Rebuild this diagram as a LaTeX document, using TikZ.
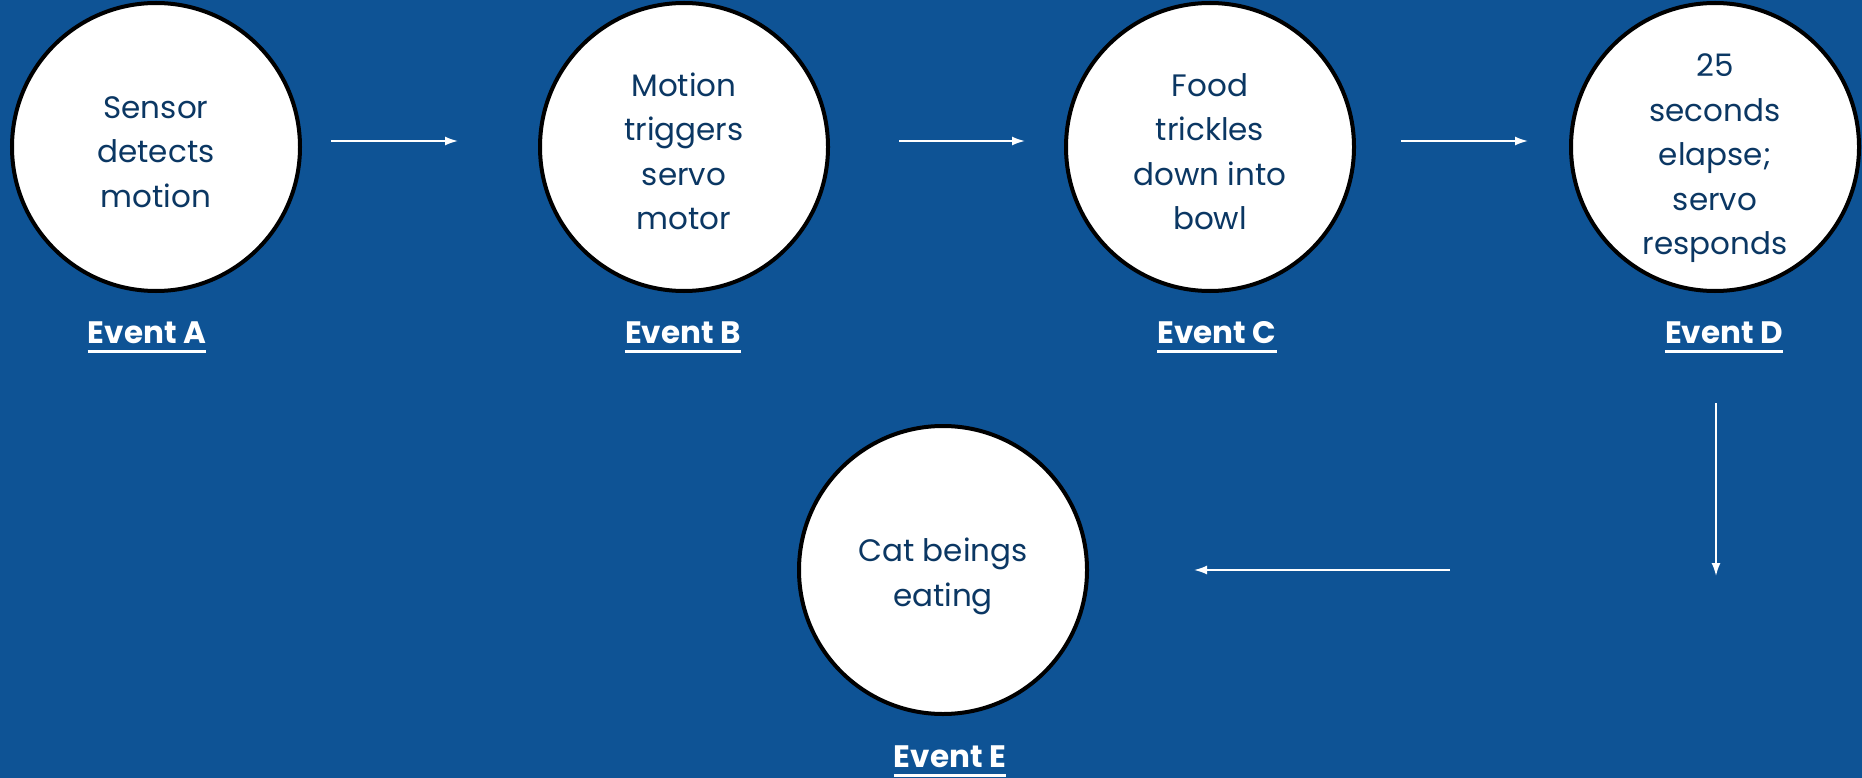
\documentclass[tikz,border=0pt]{standalone}
\usepackage{fontspec}
\setmainfont{Poppins}
\usetikzlibrary{arrows.meta}
\definecolor{bgblue}{HTML}{0E5395}
\definecolor{navy}{HTML}{0B3763}
\newcommand{\ctext}[2][5pt]{\raisebox{-#1}[\height][\depth]{\begin{tabular}{@{}c@{}}#2\end{tabular}}}
\tikzset{
  event/.style={circle, draw=black, line width=4pt, fill=white, minimum size=288pt, inner sep=0pt,
    align=center, text=navy, font=\fontsize{31}{44.5}\selectfont},
  evlabel/.style={text=white, inner sep=0pt, text depth=0pt, anchor=base,
    font=\fontsize{31}{36}\selectfont\bfseries},
  ul/.style={draw=white, line width=3pt},
  arr/.style={draw=white, line width=1.8pt, -{Latex[length=13pt,width=9pt]}},
}
\begin{document}
\begin{tikzpicture}[x=1pt,y=-1pt]
\fill[bgblue] (0,0) rectangle (1862,778);
\useasboundingbox (0,0) rectangle (1862,778);
\node[event] (a) at (156,147) {\ctext[7pt]{Sensor\\detects\\motion}};
\node[event] (b) at (684,147) {\ctext[7pt]{Motion\\triggers\\servo\\motor}};
\node[event] (c) at (1210,147) {\ctext[7pt]{Food\\trickles\\down into\\bowl}};
\node[event] (d) at (1715,147) {\ctext[10pt]{25\\seconds\\elapse;\\servo\\responds}};
\node[event] (e) at (943,570) {\ctext[5pt]{Cat beings\\eating}};
\node[evlabel] (la) at (147,343) {Event A};
\node[evlabel] (lb) at (683,343) {Event B};
\node[evlabel] (lc) at (1217,343) {Event C};
\node[evlabel] (ld) at (1724,343) {Event D};
\node[evlabel] (le) at (950,767) {Event E};
\foreach \n in {la,lb,lc,ld,le}{
  \draw[ul] ([yshift=-8.5pt]\n.base west) -- ([yshift=-8.5pt]\n.base east);
}
\coordinate (dn) at (1716,576);
\coordinate (lf) at (1450,570);
\draw[arr, shorten <=29pt, shorten >=80pt] ([yshift=6pt]a.east) -- ([yshift=6pt]b.west);
\draw[arr, shorten <=69pt, shorten >=39pt] ([yshift=6pt]b.east) -- ([yshift=6pt]c.west);
\draw[arr, shorten <=45pt, shorten >=41pt] ([yshift=6pt]c.east) -- ([yshift=6pt]d.west);
\draw[arr, shorten <=110pt] ([xshift=1pt]d.south) -- (dn);
\draw[arr, shorten >=105pt] (lf) -- (e.east);
\end{tikzpicture}
\end{document}
